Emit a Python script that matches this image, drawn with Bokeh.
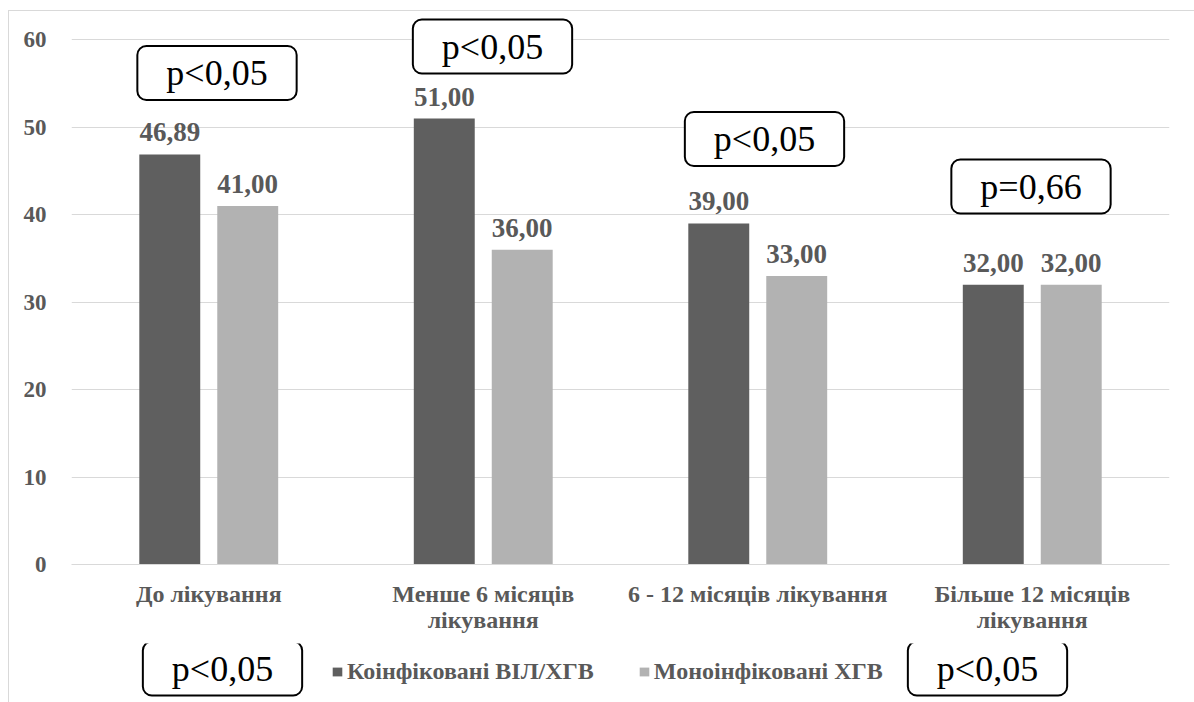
from bokeh.plotting import figure
from bokeh.layouts import column
from bokeh.models import (ColumnDataSource, FactorRange, Range1d, Label, Legend,
                          LegendItem, FixedTicker)
from bokeh.transform import dodge
from bokeh.core.properties import value
from bokeh.embed import file_html
from bokeh.resources import INLINE

# ---- data ----
categories = ["До лікування", "Менше 6 місяців\nлікування",
              "6 - 12 місяців лікування", "Більше 12 місяців\nлікування"]
coinfected = [46.89, 51.00, 39.00, 32.00]      # Коінфіковані ВІЛ/ХГВ
monoinfected = [41.00, 36.00, 33.00, 32.00]    # Моноінфіковані ХГВ
series_names = ["Коінфіковані ВІЛ/ХГВ", "Моноінфіковані ХГВ"]
group_p_values = ["p<0,05", "p<0,05", "p<0,05", "p=0,66"]
overall_p_values = ["p<0,05", "p<0,05"]
y_ticks = [0, 10, 20, 30, 40, 50, 60]

# ---- styling ----
DARK = "#5f5f5f"
LIGHT = "#b2b2b2"
GRID = "#d9d9d9"
TEXT = "#595959"
SERIF = "Liberation Serif"


def fmt(v):
    return f"{v:.2f}".replace(".", ",")


src = ColumnDataSource(dict(
    cat=categories,
    co=coinfected,
    mono=monoinfected,
    co_lbl=[fmt(v) for v in coinfected],
    mono_lbl=[fmt(v) for v in monoinfected],
))

# ---- main chart ----
p = figure(frame_width=1098, frame_height=553,
           x_range=FactorRange(factors=categories, range_padding=0),
           y_range=Range1d(0, 63.24),
           output_backend="svg", toolbar_location=None,
           min_border_left=62, min_border_right=25,
           min_border_top=0, min_border_bottom=79)
p.outline_line_color = None
p.background_fill_color = "white"
p.border_fill_color = "white"

bar_w = 0.222
off = 0.142
p.vbar(x=dodge("cat", -off, range=p.x_range), top="co", width=bar_w,
       source=src, fill_color=DARK, line_color=None)
p.vbar(x=dodge("cat", off, range=p.x_range), top="mono", width=bar_w,
       source=src, fill_color=LIGHT, line_color=None)

# value labels above the bars
for lbl, top, dx in (("co_lbl", "co", -off), ("mono_lbl", "mono", off)):
    p.text(x=dodge("cat", dx, range=p.x_range), y=top, text=lbl, source=src,
           text_align="center", text_baseline="bottom", y_offset=-13,
           text_font=value(SERIF), text_font_style="bold",
           text_font_size="27px", text_color=TEXT)

# axes
p.yaxis.ticker = FixedTicker(ticks=y_ticks)
p.yaxis.axis_line_color = None
p.yaxis.major_tick_line_color = None
p.yaxis.minor_tick_line_color = None
p.yaxis.major_label_text_font = SERIF
p.yaxis.major_label_text_font_style = "bold"
p.yaxis.major_label_text_font_size = "23px"
p.yaxis.major_label_text_color = TEXT
p.yaxis.major_label_standoff = 19

p.xaxis.axis_line_color = GRID
p.xaxis.axis_line_width = 1
p.xaxis.major_tick_line_color = None
p.xaxis.minor_tick_line_color = None
p.xaxis.major_label_text_font = SERIF
p.xaxis.major_label_text_font_style = "bold"
p.xaxis.major_label_text_font_size = "24px"
p.xaxis.major_label_text_line_height = 1.0
p.xaxis.major_label_text_color = TEXT
p.xaxis.major_label_standoff = 10

p.xgrid.grid_line_color = None
p.ygrid.ticker = FixedTicker(ticks=y_ticks)
p.ygrid.grid_line_color = GRID
p.ygrid.grid_line_width = 1

box_style = dict(x_units="screen", y_units="screen",
                 text_font=SERIF, text_font_size="36px", text_color="black",
                 text_align="center", text_baseline="middle",
                 border_line_color="black", border_line_width=2,
                 border_radius=9, background_fill_color="white",
                 padding=dict(left=29, right=29, top=7, bottom=7))

# significance boxes over each group (offsets from the frame's bottom-left)
group_box_pos = [(145.5, 491.5), (421, 518), (693, 425.5), (959.5, 378)]
for txt, (bx, by) in zip(group_p_values, group_box_pos):
    p.add_layout(Label(x=bx, y=by, text=txt, **box_style))

# ---- legend row ----
q = figure(frame_width=1098, frame_height=59,
           x_range=Range1d(0, 1), y_range=Range1d(0, 1),
           output_backend="svg", toolbar_location=None,
           x_axis_location=None, y_axis_location=None,
           min_border_left=62, min_border_right=25,
           min_border_top=0, min_border_bottom=0)
q.outline_line_color = None
q.grid.grid_line_color = None
q.background_fill_color = "white"
q.border_fill_color = "white"

# zero-height swatch bars, used only for the legend glyphs
k_co = q.vbar(x=[0.5], top=[0], bottom=[0], width=0.01,
              fill_color=DARK, line_color=None)
k_mono = q.vbar(x=[0.5], top=[0], bottom=[0], width=0.01,
                fill_color=LIGHT, line_color=None)

legend = Legend(items=[LegendItem(label=series_names[0], renderers=[k_co]),
                       LegendItem(label=series_names[1], renderers=[k_mono])],
                location=(260, 17), orientation="horizontal",
                glyph_width=12, glyph_height=11, label_standoff=4, spacing=44,
                padding=0, margin=0, border_line_color=None,
                background_fill_alpha=0,
                label_text_font=SERIF, label_text_font_style="bold",
                label_text_font_size="24px", label_text_color=TEXT)
q.add_layout(legend, "center")

overall_box_pos = [(151, 34), (916, 34)]
for txt, (bx, by) in zip(overall_p_values, overall_box_pos):
    q.add_layout(Label(x=bx, y=by, text=txt, **box_style))

# chart area with a thin grey frame on the left and top
page = column(p, q, spacing=0,
              styles={"margin-left": "8px", "margin-top": "10px",
                      "border-left": f"1px solid {GRID}",
                      "border-top": f"1px solid {GRID}"})

open("out.html", "w").write(file_html(page, INLINE))
